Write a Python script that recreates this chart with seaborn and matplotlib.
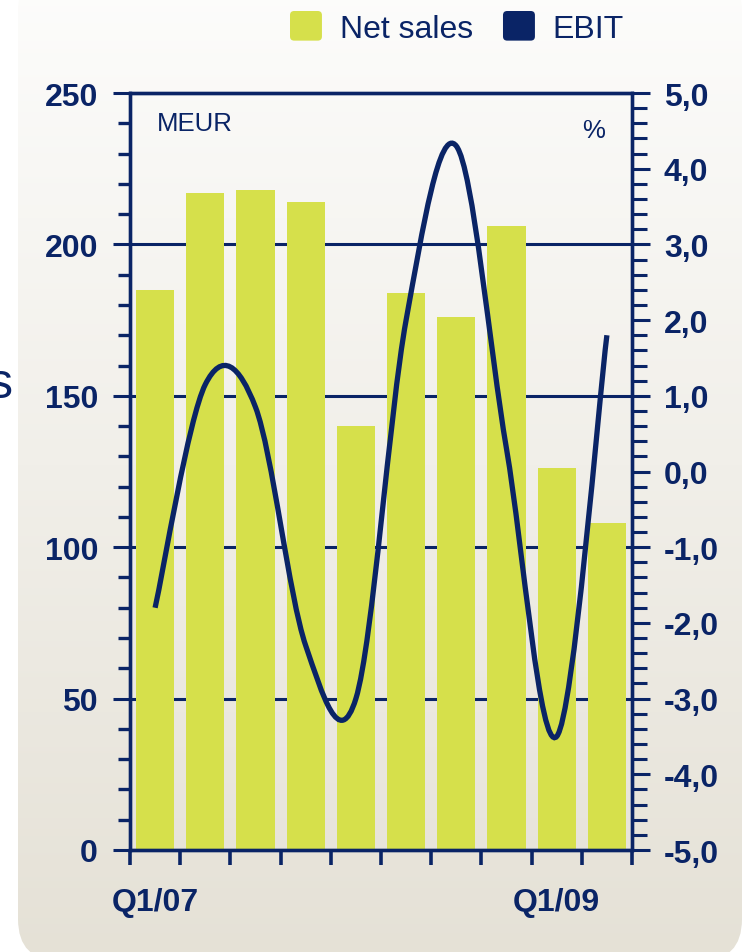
import numpy as np
import pandas as pd
import matplotlib
matplotlib.use("Agg")
import matplotlib.pyplot as plt
import seaborn as sns
from matplotlib.path import Path
from matplotlib.patches import PathPatch, FancyBboxPatch, Patch
from matplotlib.ticker import MultipleLocator, FixedLocator, FuncFormatter
from matplotlib.legend_handler import HandlerPatch

# ---------------- data ----------------
quarters = ["Q1/07", "Q2/07", "Q3/07", "Q4/07", "Q1/08",
            "Q2/08", "Q3/08", "Q4/08", "Q1/09", "Q2/09"]
tick_labels = ["Q1/07", "", "", "", "", "", "", "", "Q1/09", ""]
net_sales = [185, 217, 218, 214, 140, 184, 176, 206, 126, 108]
ebit_pct = [-1.8, 1.15, 0.85, -2.3, -3.0, 2.0, 4.3, 0.3, -3.5, 1.8]
left_ticks = [0, 50, 100, 150, 200, 250]
right_ticks = [-5, -4, -3, -2, -1, 0, 1, 2, 3, 4, 5]

# ---------------- style ----------------
NAVY = "#0a2466"
LIME = "#d6e04b"
W, H = 743, 953

sns.set_theme(style="white")
plt.rcParams["font.family"] = ["Liberation Sans", "DejaVu Sans"]
TICKFAM = ["Liberation Sans Narrow", "Liberation Sans", "DejaVu Sans"]
TICKFONT = dict(family=TICKFAM, weight="bold", size=23)

fig = plt.figure(figsize=(W / 100, H / 100), dpi=100)
fig.patch.set_facecolor("white")

# background panel with vertical gradient
bg = fig.add_axes([0, 0, 1, 1], zorder=-10)
bg.set_xlim(0, W)
bg.set_ylim(H, 0)
bg.axis("off")
top_c = np.array([253, 253, 252]) / 255
bot_c = np.array([229, 225, 214]) / 255
t = np.linspace(0, 1, 256)[:, None, None]
grad = top_c[None, None, :] * (1 - t) + bot_c[None, None, :] * t
im = bg.imshow(grad, extent=(18, 742, 962, -30), aspect="auto", interpolation="bilinear")
panel = FancyBboxPatch((18, -30), 724, 992, boxstyle="round,pad=0,rounding_size=42",
                       transform=bg.transData, fc="none", ec="none")
bg.add_patch(panel)
im.set_clip_path(panel)

# main axes
ax = fig.add_axes([130 / W, 1 - 851 / H, (632 - 130) / W, (851 - 94) / H])
ax.patch.set_alpha(0)

df = pd.DataFrame({"quarter": quarters, "net_sales": net_sales})
sns.barplot(data=df, x="quarter", y="net_sales", color=LIME, saturation=1,
            width=0.76, ax=ax, linewidth=0, zorder=2)

ax.set_xlim(-0.5, 9.5)
ax.set_ylim(0, 250)
ax.set_xlabel("")
ax.set_ylabel("")
ax.set_xticks(range(len(quarters)))
ax.set_xticklabels(tick_labels, fontdict=TICKFONT, color=NAVY)
ax.xaxis.set_minor_locator(FixedLocator(np.arange(-0.5, len(quarters), 1.0)))
ax.tick_params(axis="x", which="major", length=0, pad=27)
ax.tick_params(axis="x", which="minor", length=11, width=2.6, color=NAVY,
               direction="out", bottom=True)

ax.set_yticks(left_ticks)
ax.set_yticklabels([str(v) for v in left_ticks], fontdict=TICKFONT, color=NAVY)
ax.yaxis.set_minor_locator(MultipleLocator(10))
ax.yaxis.set_ticks_position("left")
ax.tick_params(axis="y", which="major", length=12, width=2.2, color=NAVY,
               direction="out", pad=11, left=True)
ax.tick_params(axis="y", which="minor", length=9, width=2.4, color=NAVY,
               direction="out", left=True)
ax.yaxis.grid(True, color=NAVY, lw=2.2)
ax.xaxis.grid(False)
ax.set_axisbelow(True)
for s in ax.spines.values():
    s.set_color(NAVY)
    s.set_linewidth(2.4)
    s.set_visible(True)

# right axis (EBIT %)
ax2 = ax.twinx()
ax2.set_ylim(-5, 5)
ax2.set_yticks(right_ticks)
ax2.yaxis.set_major_formatter(FuncFormatter(lambda v, p: f"{v:.1f}".replace(".", ",")))
ax2.yaxis.set_minor_locator(MultipleLocator(0.2))
ax2.tick_params(axis="y", which="major", length=13, width=2.2, color=NAVY,
                direction="out", pad=10, right=True, labelcolor=NAVY,
                labelsize=23)
ax2.tick_params(axis="y", which="minor", length=11, width=2.2, color=NAVY,
                direction="out", right=True)
for lab in ax2.get_yticklabels():
    lab.set_fontfamily(TICKFAM)
    lab.set_fontweight("bold")
ax2.grid(False)
for s in ax2.spines.values():
    s.set_color(NAVY)
    s.set_linewidth(2.4)

# smoothed EBIT line (Bezier through the quarterly points)
pts = np.column_stack([np.arange(len(ebit_pct)), np.array(ebit_pct, dtype=float)])
n = len(pts)
verts = [tuple(pts[0])]
codes = [Path.MOVETO]
for i in range(n - 1):
    p0 = pts[i - 1] if i > 0 else pts[i]
    p1 = pts[i]
    p2 = pts[i + 1]
    p3 = pts[i + 2] if i + 2 < n else pts[i + 1]
    c1 = p1 + (p2 - p0) / 6.0
    c2 = p2 - (p3 - p1) / 6.0
    verts += [tuple(c1), tuple(c2), tuple(p2)]
    codes += [Path.CURVE4] * 3
ax2.add_patch(PathPatch(Path(verts, codes), fill=False, ec=NAVY, lw=3.8,
                        transform=ax2.transData, zorder=5))

# units
fig.text(157 / W, 1 - 124 / H, "MEUR", color=NAVY, fontsize=18.5, ha="left", va="center")
fig.text(594 / W, 1 - 131 / H, "%", color=NAVY, fontsize=18.5, ha="center", va="center")
# partial word cut off at left edge (as in the source image)
fig.text(13 / W, 1 - 398 / H, "s", color=NAVY, fontsize=36, ha="right", va="baseline")

# legend
def rounded_square(legend, orig_handle, xdescent, ydescent, width, height, fontsize):
    return FancyBboxPatch((-xdescent, -ydescent), width, height,
                          boxstyle="round,pad=0,rounding_size=3")

handles = [Patch(facecolor=LIME, edgecolor="none", label="Net sales"),
           Patch(facecolor=NAVY, edgecolor="none", label="EBIT")]
fig.legend(handles=handles, loc="upper left", bbox_to_anchor=(290 / W, 1 - 12 / H),
           ncol=2, frameon=False, fontsize=23, labelcolor=NAVY,
           handlelength=1.0, handleheight=1.05, handletextpad=0.55,
           columnspacing=0.95, borderpad=0, borderaxespad=0,
           handler_map={Patch: HandlerPatch(patch_func=rounded_square)})

fig.savefig("out.png", dpi=100)
